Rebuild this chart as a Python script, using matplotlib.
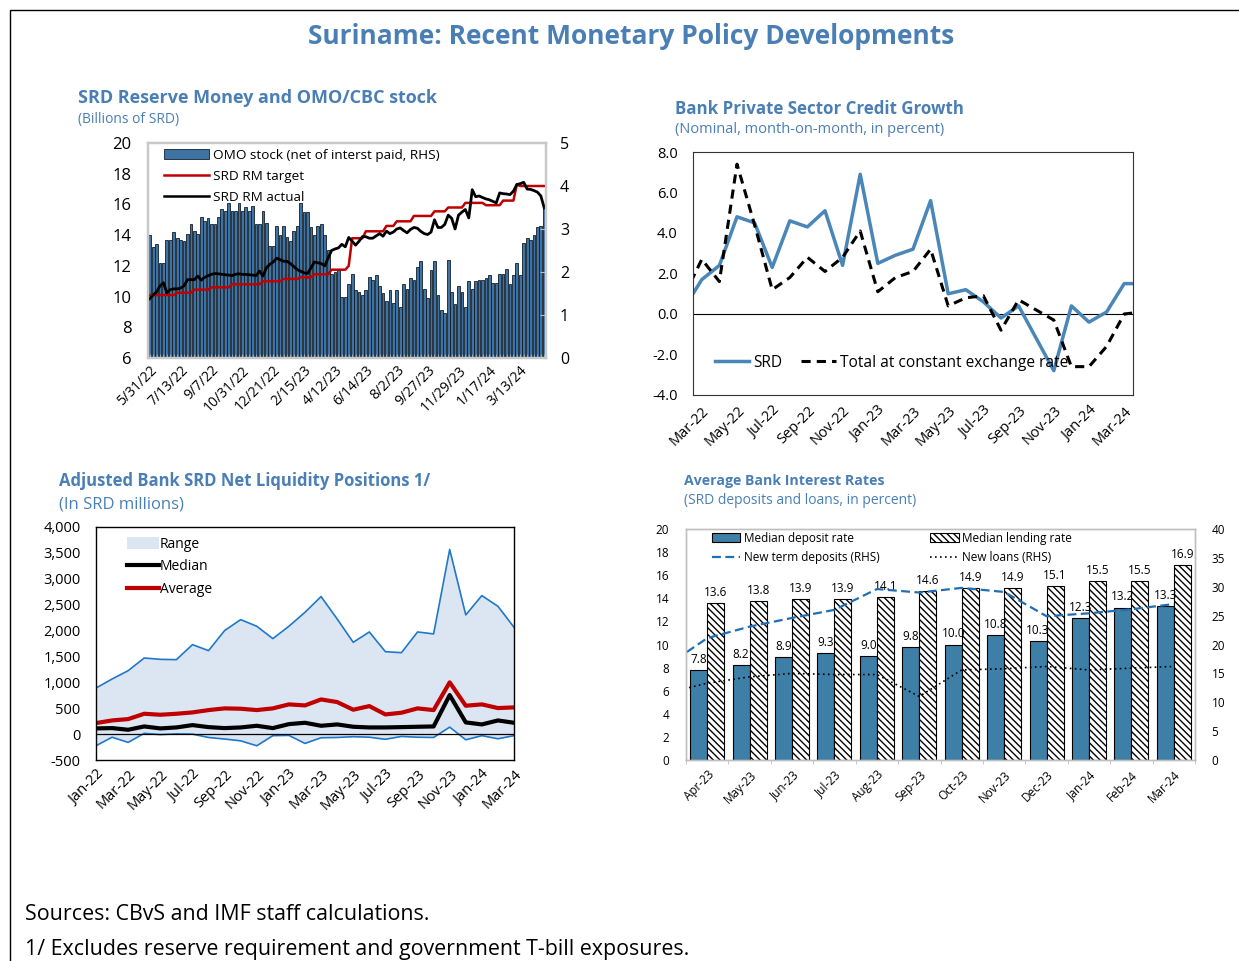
import numpy as np
import matplotlib
matplotlib.use("Agg")
import matplotlib.pyplot as plt
from matplotlib.patches import Patch, Rectangle
from matplotlib.lines import Line2D
from matplotlib.ticker import FuncFormatter

plt.rcParams["font.family"] = ["Open Sans", "DejaVu Sans"]
plt.rcParams["hatch.linewidth"] = 1.0

W, H = 1239, 961
BLUE_TXT = "#4a7fb5"

# ---------------- data ----------------
# SRD reserve money chart (twice-weekly-ish observations)
rm_ticklabels = ["5/31/22", "7/13/22", "9/7/22", "10/31/22", "12/21/22", "2/15/23",
                 "4/12/23", "6/14/23", "8/2/23", "9/27/23", "11/29/23", "1/17/24", "3/13/24"]
omo_stock = [2.86, 2.57, 2.64, 2.21, 2.21, 2.75, 2.75, 2.93, 2.79, 2.75,
             2.71, 2.89, 3.11, 2.96, 2.89, 3.29, 3.18, 3.25, 3.11, 3.11,
             3.29, 3.46, 3.43, 3.61, 3.43, 3.43, 3.61, 3.43, 3.50, 3.43,
             3.54, 3.11, 3.11, 3.43, 3.14, 2.61, 2.61, 3.07, 2.86, 3.07,
             2.82, 2.71, 2.96, 3.07, 3.61, 3.39, 3.39, 3.04, 2.86, 3.07,
             3.11, 2.86, 2.50, 1.96, 2.00, 2.04, 1.43, 1.41, 1.71, 1.96,
             1.57, 1.54, 1.46, 1.57, 1.89, 1.82, 1.93, 1.68, 1.50, 1.32,
             1.57, 1.29, 1.57, 1.18, 1.71, 1.61, 1.86, 1.82, 2.11, 2.25,
             1.61, 1.39, 2.04, 2.25, 1.46, 1.11, 1.04, 2.29, 1.54, 1.25,
             1.68, 1.54, 1.18, 1.79, 1.61, 1.79, 1.82, 1.82, 1.86, 1.93,
             1.75, 1.75, 1.96, 1.96, 2.07, 1.71, 1.93, 2.21, 1.93, 2.68,
             2.79, 2.75, 2.86, 3.04, 3.07, 3.50]
rm_target = [10.1] * 8 + [10.25] * 5 + [10.45] * 5 + [10.6] * 6 + [10.8] * 9 + \
            [11.0] * 6 + [11.15] * 5 + [11.25] * 4 + [11.45] * 5 + [11.75] * 5 + \
            [12.0] + [13.8] * 4 + [14.25] * 6 + [14.6] * 3 + [14.9] * 5 + \
            [15.25] * 6 + [15.55] * 4 + [15.8] * 5 + [16.1] * 6 + [15.95] * 5 + \
            [16.25] * 4 + [17.3] + [17.2] * 8
rm_actual = [9.86, 10.1, 10.3, 10.7, 10.9, 10.25, 10.45, 10.5, 10.5, 10.55,
             10.7, 11.1, 11.1, 11.1, 11.33, 11.07, 11.25, 11.35, 11.45, 11.5,
             11.48, 11.45, 11.42, 11.4, 11.37, 11.45, 11.48, 11.45, 11.44, 11.42,
             11.4, 11.37, 11.66, 11.33, 11.87, 12.1, 12.25, 12.5, 12.4, 12.3,
             12.3, 12.15, 11.95, 11.76, 11.65, 11.55, 11.5, 11.87, 12.25, 12.2,
             12.15, 12.0, 12.5, 13.0, 13.1, 13.17, 13.4, 13.24, 13.85, 13.6,
             13.35, 13.6, 13.9, 13.9, 13.8, 13.8, 13.95, 14.1, 13.93, 14.26,
             14.1, 14.2, 14.4, 14.47, 14.3, 14.15, 14.37, 14.5, 14.45, 14.25,
             14.1, 14.04, 14.2, 15.0, 14.5, 14.5, 14.7, 15.3, 15.1, 14.4,
             15.3, 15.5, 15.67, 15.12, 16.96, 16.5, 16.55, 16.45, 16.36, 16.3,
             16.2, 16.1, 16.75, 16.7, 16.68, 16.64, 16.86, 17.3, 17.35, 17.44,
             17.0, 16.98, 16.9, 16.8, 16.55, 15.77]

# credit growth, Feb-22 .. Apr-24 (first and last points fall just outside the axis)
credit_ticklabels = ["Mar-22", "May-22", "Jul-22", "Sep-22", "Nov-22", "Jan-23", "Mar-23",
                     "May-23", "Jul-23", "Sep-23", "Nov-23", "Jan-24", "Mar-24"]
credit_srd = [0.3, 1.7, 2.4, 4.8, 4.5, 2.3, 4.6, 4.3, 5.1, 2.4, 6.9, 2.5, 2.9, 3.2,
              5.6, 1.0, 1.2, 0.6, -0.2, 0.4, -1.2, -2.8, 0.4, -0.4, 0.1, 1.5, 1.5]
credit_total = [0.9, 2.7, 1.6, 7.4, 4.4, 1.2, 1.8, 2.8, 2.1, 2.8, 4.1, 1.1, 1.8, 2.1,
                3.2, 0.4, 0.8, 0.9, -0.8, 0.7, 0.2, -0.3, -2.6, -2.6, -1.6, 0.0, 0.1]

# net liquidity positions, Jan-22 .. Mar-24
liq_ticklabels = ["Jan-22", "Mar-22", "May-22", "Jul-22", "Sep-22", "Nov-22", "Jan-23",
                  "Mar-23", "May-23", "Jul-23", "Sep-23", "Nov-23", "Jan-24", "Mar-24"]
liq_max = [890, 1064, 1225, 1470, 1444, 1438, 1728, 1612, 2000, 2211, 2083, 1844, 2083, 2353,
           2656, 2224, 1773, 1973, 1592, 1573, 1973, 1935, 3566, 2302, 2675, 2469, 2063]
liq_min = [-225, -60, -160, 15, -10, 5, 0, -65, -95, -130, -225, -30, -25, -180,
           -70, -65, -50, -60, -100, -45, -60, -65, 135, -110, -30, -90, -30]
liq_median = [110, 116, 84, 148, 110, 129, 174, 135, 116, 129, 161, 116, 193, 219,
              161, 187, 142, 129, 129, 135, 142, 148, 754, 226, 187, 264, 219]
liq_average = [213, 264, 290, 393, 374, 393, 419, 464, 497, 490, 464, 497, 574, 554,
               670, 619, 471, 541, 380, 413, 497, 464, 1000, 548, 574, 503, 516]

# interest rates, Apr-23 .. Mar-24
rate_months = ["Apr-23", "May-23", "Jun-23", "Jul-23", "Aug-23", "Sep-23",
               "Oct-23", "Nov-23", "Dec-23", "Jan-24", "Feb-24", "Mar-24"]
deposit_rate = [7.8, 8.2, 8.9, 9.3, 9.0, 9.8, 10.0, 10.8, 10.3, 12.3, 13.2, 13.3]
lending_rate = [13.6, 13.8, 13.9, 13.9, 14.1, 14.6, 14.9, 14.9, 15.1, 15.5, 15.5, 16.9]
# Mar-23 .. Mar-24 (Mar-23 sits just off the left edge)
new_term_dep = [16.1, 21.1, 23.1, 24.6, 26.0, 29.6, 29.0, 29.8, 29.1, 24.9, 25.4, 26.1, 27.0]
new_loans = [11.5, 13.3, 14.4, 15.0, 14.8, 14.8, 11.0, 15.6, 15.8, 16.2, 15.6, 15.9, 16.2]


def box(x0, y0, x1, y1):
    return [x0 / W, 1 - y1 / H, (x1 - x0) / W, (y1 - y0) / H]


def ftext(x, y, s, **kw):
    fig.text(x / W, 1 - y / H, s, va="center", **kw)


fig = plt.figure(figsize=(W / 100, H / 100), dpi=100)
fig.patches.append(Rectangle((10 / W, -0.1), 1.2, 1 - 10 / H + 0.1, transform=fig.transFigure,
                             fill=False, edgecolor="black", lw=1))

ftext(631, 36, "Suriname: Recent Monetary Policy Developments", ha="center",
      fontsize=19, fontweight="bold", color=BLUE_TXT)

# ---------------- top left ----------------
ftext(78, 98, "SRD Reserve Money and OMO/CBC stock", fontsize=13, fontweight="bold", color=BLUE_TXT)
ftext(78, 120, "(Billions of SRD)", fontsize=10, color=BLUE_TXT)

ax = fig.add_axes(box(148, 143, 546, 358))
ax2 = ax.twinx()
ax.set_zorder(ax2.get_zorder() + 1)
ax.patch.set_visible(False)
xb = np.arange(len(omo_stock))
ax2.bar(xb, omo_stock, width=0.8, color="#3f73a3", edgecolor="#141e29", lw=0.6)
ax.plot(xb, rm_target, color="#c00000", lw=1.8)
ax.plot(xb, rm_actual, color="black", lw=2.0)
ax.set_xlim(-0.5, len(omo_stock) - 0.5)
ax.set_ylim(6, 20)
ax2.set_ylim(0, 5)
ax.set_yticks(range(6, 21, 2))
ax2.set_yticks(range(0, 6))
ax.set_xticks(np.arange(0, len(omo_stock), 9))
ax.set_xticklabels(rm_ticklabels, rotation=45, ha="right", rotation_mode="anchor", fontsize=10)
ax.set_xticks(xb, minor=True)
ax.tick_params(axis="x", which="both", length=3, direction="in", color="#9fb3c8")
ax.tick_params(axis="y", length=0, labelsize=12, pad=12)
ax2.tick_params(axis="y", length=4, direction="in", color="#bfbfbf", labelsize=11.5, pad=10)
for a in (ax, ax2):
    for sp in a.spines.values():
        sp.set_color("#c8c8c8")
        sp.set_linewidth(1.6)
h_tl = [Patch(facecolor="#3f73a3", edgecolor="#141e29", lw=0.6),
        Line2D([], [], color="#c00000", lw=1.8), Line2D([], [], color="black", lw=1.8)]
ax.legend(h_tl, ["OMO stock (net of interst paid, RHS)", "SRD RM target", "SRD RM actual"],
          loc="upper left", bbox_to_anchor=(0.01, 1.03), frameon=False, fontsize=9.7,
          handlelength=3.3, handleheight=0.8, labelspacing=0.6, handletextpad=0.3)

# ---------------- top right ----------------
ftext(675, 109, "Bank Private Sector Credit Growth", fontsize=12.2, fontweight="bold", color=BLUE_TXT)
ftext(675, 130, "(Nominal, month-on-month, in percent)", fontsize=10.5, color=BLUE_TXT)

ax = fig.add_axes(box(693, 152, 1133, 395))
xc = np.arange(len(credit_srd)) - 1
ax.axhline(0, color="black", lw=0.8)
ax.plot(xc, credit_srd, color="#4a86b8", lw=2.5, label="SRD")
ax.plot(xc, credit_total, color="black", lw=2.2, ls=(0, (3, 2)), label="Total at constant exchange rate")
ax.set_xlim(-0.5, 24.5)
ax.set_ylim(-4, 8)
ax.set_yticks(np.arange(-4, 8.1, 2))
ax.yaxis.set_major_formatter(FuncFormatter(lambda v, p: f"{v:.1f}"))
ax.set_xticks(np.arange(0, 25, 2))
ax.set_xticklabels(credit_ticklabels, rotation=45, ha="right", rotation_mode="anchor")
ax.tick_params(axis="x", length=0, labelsize=10.5, pad=6)
ax.tick_params(axis="y", length=0, labelsize=10.5, pad=11)
for sp in ax.spines.values():
    sp.set_color("#333333")
    sp.set_linewidth(0.8)
ax.legend(loc="lower left", bbox_to_anchor=(0.035, 0.075), ncol=2, frameon=False, fontsize=11.2,
          handlelength=2.2, columnspacing=1.2, handletextpad=0.3, borderaxespad=0)

# ---------------- bottom left ----------------
ftext(59, 481, "Adjusted Bank SRD Net Liquidity Positions 1/", fontsize=12, fontweight="bold", color=BLUE_TXT)
ftext(59, 505, "(In SRD millions)", fontsize=12, color=BLUE_TXT)

ax = fig.add_axes(box(96, 527, 514, 760))
xl = np.arange(len(liq_max))
ax.fill_between(xl, liq_min, liq_max, color="#dce6f2", lw=0)
ax.plot(xl, liq_max, color="#1f78c8", lw=1.2)
ax.plot(xl, liq_min, color="#1f78c8", lw=1.2)
ax.axhline(0, color="black", lw=0.9)
ax.plot(xl, liq_median, color="black", lw=3)
ax.plot(xl, liq_average, color="#c00000", lw=3)
ax.set_xlim(0, len(liq_max) - 1)
ax.set_ylim(-500, 4000)
ax.set_yticks(range(-500, 4001, 500))
ax.yaxis.set_major_formatter(FuncFormatter(lambda v, p: f"{v:,.0f}"))
ax.set_xticks(np.arange(0, len(liq_max), 2))
ax.set_xticklabels(liq_ticklabels, rotation=45, ha="right", rotation_mode="anchor")
ax.tick_params(axis="x", length=0, labelsize=10.5, pad=5)
ax.tick_params(axis="y", length=0, labelsize=10.5, pad=11)
for sp in ax.spines.values():
    sp.set_color("black")
    sp.set_linewidth(1.0)
h_bl = [Patch(facecolor="#dce6f2", edgecolor="none"),
        Line2D([], [], color="black", lw=3), Line2D([], [], color="#c00000", lw=3)]
ax.legend(h_bl, ["Range", "Median", "Average"], loc="upper left", bbox_to_anchor=(0.05, 1.0),
          frameon=False, fontsize=10, handlelength=2.3, handleheight=0.9,
          labelspacing=0.55, handletextpad=0.1, borderaxespad=0.3)

# ---------------- bottom right ----------------
ftext(684, 481, "Average Bank Interest Rates", fontsize=10.2, fontweight="bold", color=BLUE_TXT)
ftext(684, 501, "(SRD deposits and loans, in percent)", fontsize=10, color=BLUE_TXT)

ax = fig.add_axes(box(686, 529, 1195, 760))
ax2 = ax.twinx()
xr = np.arange(len(rate_months))
bw = 0.4
b1 = ax.bar(xr - bw / 2, deposit_rate, bw, color="#3d7fa6", edgecolor="black", lw=0.8)
b2 = ax.bar(xr + bw / 2, lending_rate, bw, color="white", edgecolor="black", lw=0.8, hatch="\\" * 5)
for i in xr:
    ax.text(i - bw / 2, deposit_rate[i] + 0.35, f"{deposit_rate[i]:.1f}", ha="center", va="bottom", fontsize=8.5)
    ax.text(i + bw / 2, lending_rate[i] + 0.35, f"{lending_rate[i]:.1f}", ha="center", va="bottom", fontsize=8.5)
xr2 = np.arange(len(new_term_dep)) - 1
l1, = ax2.plot(xr2, new_term_dep, color="#1f6fb5", lw=1.6, ls=(0, (4, 2)))
l2, = ax2.plot(xr2, new_loans, color="black", lw=1.2, ls=(0, (1, 2)))
ax.set_xlim(-0.5, len(rate_months) - 0.5)
ax.set_ylim(0, 20)
ax2.set_ylim(0, 40)
ax.set_yticks(range(0, 21, 2))
ax2.set_yticks(range(0, 41, 5))
ax.set_xticks(xr)
ax.set_xticklabels(rate_months, rotation=45, ha="right", rotation_mode="anchor")
ax.set_xticks(np.arange(-0.5, len(rate_months), 1), minor=True)
ax.tick_params(axis="x", which="major", length=0, labelsize=8.5, pad=6)
ax.tick_params(axis="x", which="minor", length=3, color="#bfbfbf")
ax.tick_params(axis="y", length=0, labelsize=8.5, pad=12)
ax2.tick_params(axis="y", length=0, labelsize=8.5, pad=12)
for a in (ax, ax2):
    for sp in a.spines.values():
        sp.set_color("#bfbfbf")
        sp.set_linewidth(1.0)
ax2.legend([b1, l1, b2, l2], ["Median deposit rate", "New term deposits (RHS)",
                              "Median lending rate", "New loans (RHS)"],
           loc="upper left", bbox_to_anchor=(0.03, 1.035), ncol=2, frameon=False, fontsize=8.5,
           handlelength=2.4, handleheight=0.8, labelspacing=0.55, columnspacing=4.3, handletextpad=0.3)

# ---------------- footnotes ----------------
ftext(25, 915, "Sources: CBvS and IMF staff calculations.", fontsize=15.4)
ftext(25, 949, "1/ Excludes reserve requirement and government T-bill exposures.", fontsize=15.4)

fig.savefig("out.png", dpi=100)
